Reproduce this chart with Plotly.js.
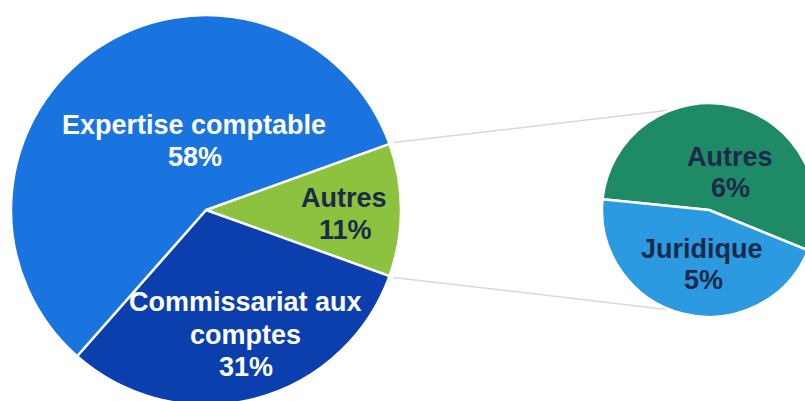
<!DOCTYPE html>
<html>
<head>
<meta charset="utf-8">
<script src="https://cdn.plot.ly/plotly-3.0.1.min.js"></script>
<style>
html,body{margin:0;padding:0;overflow:hidden;background:#fff;width:805px;height:401px;}
#chart{width:830px;height:410px;}
</style>
</head>
<body>
<div id="chart"></div>
<script>
// Main pie data
var mainLabels = ["Autres", "Commissariat aux comptes", "Expertise comptable"];
var mainValues = [11, 31, 58];
var mainColors = ["#8dc23f", "#0b3fae", "#1a74df"];
// Secondary pie (breakdown of "Autres")
var subLabels = ["Autres", "Juridique"];
var subValues = [6, 5];
var subColors = ["#1f8a66", "#2b9ae0"];

var W = 830, H = 410;
// geometry (pixels)
var mainC = {x: 206, y: 210, r: 195};
var subC = {x: 709, y: 210, r: 107};

function px2x(p){ return p / W; }
function px2y(p){ return 1 - p / H; }

var mainTotal = mainValues.reduce(function(a,b){return a+b;},0);
var subTotal = subValues.reduce(function(a,b){return a+b;},0);
var halfAngle = mainValues[0] / mainTotal * 180; // half of the "Autres" wedge, degrees
var subRot = 14 - subValues[0] / subTotal * 180;

var traces = [
  {
    type: "pie",
    labels: mainLabels,
    values: mainValues,
    sort: false,
    direction: "clockwise",
    rotation: 90 - halfAngle,
    marker: {colors: mainColors, line: {color: "#ffffff", width: 2.5}},
    textinfo: "none",
    hoverinfo: "label+percent",
    showlegend: false,
    domain: {x: [px2x(mainC.x - mainC.r), px2x(mainC.x + mainC.r)],
             y: [px2y(mainC.y + mainC.r), px2y(mainC.y - mainC.r)]}
  },
  {
    type: "pie",
    labels: subLabels,
    values: subValues,
    sort: false,
    direction: "clockwise",
    rotation: subRot,
    marker: {colors: subColors, line: {color: "#ffffff", width: 2.5}},
    textinfo: "none",
    hoverinfo: "label+value",
    showlegend: false,
    domain: {x: [px2x(subC.x - subC.r), px2x(subC.x + subC.r)],
             y: [px2y(subC.y + subC.r), px2y(subC.y - subC.r)]}
  }
];

// connector lines from the edges of the "Autres" wedge to the secondary pie
var a = halfAngle * Math.PI / 180;
var b = 111 * Math.PI / 180;
var shapes = [1, -1].map(function(s){
  return {
    type: "line", xref: "paper", yref: "paper",
    x0: px2x(mainC.x + (mainC.r + 4) * Math.cos(a)),
    y0: px2y(mainC.y - s * (mainC.r + 4) * Math.sin(a)),
    x1: px2x(subC.x + subC.r * Math.cos(b)),
    y1: px2y(subC.y - s * subC.r * Math.sin(b)),
    line: {color: "#d9d9d9", width: 1.5},
    layer: "below"
  };
});

var white = {family: "Liberation Sans, Arial, sans-serif", size: 27, color: "#ffffff", weight: "bold"};
var dark = {family: "Liberation Sans, Arial, sans-serif", size: 27, color: "#1b2a4a", weight: "bold"};

var labelLines = [
  ["Expertise comptable", 194, 125, white],
  [mainValues[2] + "%", 195, 157, white],
  ["Commissariat aux", 245, 302, white],
  ["comptes", 245, 335, white],
  [mainValues[1] + "%", 246, 367, white],
  ["Autres", 344, 198, dark],
  [mainValues[0] + "%", 345, 230, dark],
  ["Autres", 730, 157, dark],
  [subValues[0] + "%", 730, 188, dark],
  ["Juridique", 702, 249, dark],
  [subValues[1] + "%", 703, 280, dark]
];
var annotations = labelLines.map(function(l){
  return {text: l[0], x: px2x(l[1]), y: px2y(l[2]), xref: "paper", yref: "paper",
          xanchor: "center", yanchor: "middle", showarrow: false, font: l[3]};
});

var layout = {
  width: W, height: H,
  margin: {l: 0, r: 0, t: 0, b: 0},
  paper_bgcolor: "#ffffff",
  plot_bgcolor: "#ffffff",
  shapes: shapes,
  annotations: annotations
};

Plotly.newPlot("chart", traces, layout, {displayModeBar: false, staticPlot: true});
</script>
</body>
</html>
